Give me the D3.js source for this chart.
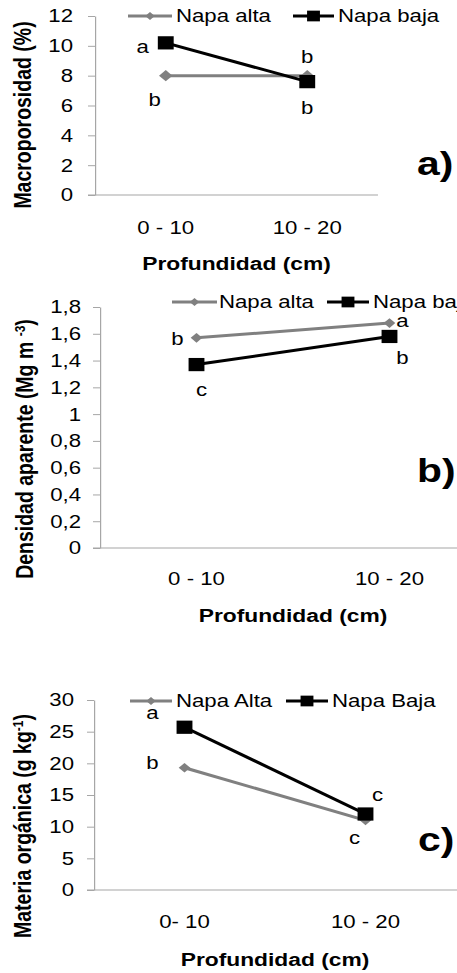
<!DOCTYPE html>
<html>
<head>
<meta charset="utf-8">
<script src="https://cdn.jsdelivr.net/npm/d3@7"></script>
<style>
  html, body { margin: 0; padding: 0; background: #fff; overflow: hidden; }
  text { font-family: Arial, "Liberation Sans", sans-serif; fill: #000; }
</style>
</head>
<body>
<div id="chart"></div>
<script>
// ---- data ----
const catsAB = ["0 - 10", "10 - 20"];
const catsC = ["0- 10", "10 - 20"];
const namesAB = ["Napa alta", "Napa baja"];
const namesC = ["Napa Alta", "Napa Baja"];

const macroAlta = [8.0, 8.0];
const macroBaja = [10.2, 7.6];
const macroAltaLetters = ["b", "b"];
const macroBajaLetters = ["a", "b"];
const macroTicks = [0, 2, 4, 6, 8, 10, 12];

const densAlta = [1.57, 1.68];
const densBaja = [1.37, 1.58];
const densAltaLetters = ["b", "a"];
const densBajaLetters = ["c", "b"];
const densTicks = [0, 0.2, 0.4, 0.6, 0.8, 1, 1.2, 1.4, 1.6, 1.8];

const moAlta = [19.3, 11.0];
const moBaja = [25.7, 12.0];
const moAltaLetters = ["b", "c"];
const moBajaLetters = ["a", "c"];
const moTicks = [0, 5, 10, 15, 20, 25, 30];

// ---- page ----
const W = 457, H = 973;
const SX = 1.2; // the original figure is stretched sideways
const X = px => px / SX;

const svg = d3.select("#chart").append("svg")
  .attr("width", W).attr("height", H)
  .attr("viewBox", `0 0 ${W / SX} ${H}`)
  .attr("preserveAspectRatio", "none");

const GRAY = "#808080", AXIS = "#a6a6a6";
const FONT = 18.5;

const comma = d => (Number.isInteger(d) ? String(d) : d.toFixed(1).replace(".", ","));

function panel(p) {
  const g = svg.append("g");
  const x = d3.scalePoint().domain(p.cats).range([X(p.x0), X(p.x1)]).padding(0.5);
  const y = d3.scaleLinear().domain([0, p.max]).range([p.y0, p.y1]);

  // y axis
  const ax = g.append("g")
    .attr("transform", `translate(${X(p.x0)},0)`)
    .call(d3.axisLeft(y).tickValues(p.ticks).tickFormat(p.fmt)
      .tickSizeInner(X(7)).tickSizeOuter(0).tickPadding(X(p.labGap)));
  ax.select(".domain").attr("stroke", AXIS).attr("stroke-width", 1);
  ax.selectAll(".tick line").attr("stroke", AXIS);
  ax.selectAll(".tick text").attr("font-size", FONT).attr("font-family", null).attr("fill", "#000");

  // x axis line
  g.append("line")
    .attr("x1", X(p.x0 - 7)).attr("x2", X(p.xEnd))
    .attr("y1", y(0)).attr("y2", y(0))
    .attr("stroke", AXIS).attr("stroke-width", 1.2);

  // category labels
  g.selectAll(".cat").data(p.cats).join("text")
    .attr("x", d => x(d)).attr("y", p.catY)
    .attr("text-anchor", "middle").attr("font-size", FONT).text(d => d);

  // x title
  g.append("text")
    .attr("x", (x.range()[0] + x.range()[1]) / 2).attr("y", p.titleY)
    .attr("text-anchor", "middle").attr("font-size", 19).attr("font-weight", "bold")
    .text("Profundidad (cm)");

  // y title
  const yt = g.append("text")
    .attr("transform", `translate(${X(p.ytX)},${p.ytY}) rotate(-90)`)
    .attr("text-anchor", "middle").attr("font-size", 19.5).attr("font-weight", "bold");
  yt.append("tspan").text(p.ytitle[0]);
  if (p.ytitle[1]) {
    yt.append("tspan").attr("font-size", 12).attr("dy", -7).text(p.ytitle[1]);
    yt.append("tspan").attr("dy", 7).text(")");
  }

  // series
  const line = d3.line().x((d, i) => x(p.cats[i])).y(d => y(d));
  const series = [
    { vals: p.alta, letters: p.altaLetters, off: p.altaOff, color: GRAY, sym: d3.symbolDiamond2, size: p.dSize },
    { vals: p.baja, letters: p.bajaLetters, off: p.bajaOff, color: "#000", sym: d3.symbolSquare, size: p.sSize }
  ];
  series.forEach(s => {
    g.append("path").attr("d", line(s.vals))
      .attr("fill", "none").attr("stroke", s.color).attr("stroke-width", 3);
    g.selectAll(null).data(s.vals).join("path")
      .attr("transform", (d, i) => `translate(${x(p.cats[i])},${y(d)})`)
      .attr("d", d3.symbol(s.sym, s.size)).attr("fill", s.color);
  });
  series.forEach(s => {
    g.selectAll(null).data(s.vals).join("text")
      .attr("x", (d, i) => x(p.cats[i]) + X(s.off[i][0]))
      .attr("y", (d, i) => y(d) + s.off[i][1])
      .attr("dy", "0.35em").attr("text-anchor", "middle").attr("font-size", FONT)
      .text((d, i) => s.letters[i]);
  });

  // legend
  const lg = g.append("g");
  p.legend.items.forEach((it, i) => {
    const s = series[i];
    lg.append("line").attr("x1", X(it[0])).attr("x2", X(it[1]))
      .attr("y1", p.legend.y).attr("y2", p.legend.y)
      .attr("stroke", s.color).attr("stroke-width", 3);
    lg.append("path")
      .attr("transform", `translate(${X((it[0] + it[1]) / 2)},${p.legend.y})`)
      .attr("d", d3.symbol(s.sym, i ? 115 : 40)).attr("fill", s.color);
    lg.append("text").attr("x", X(it[2])).attr("y", p.legend.y)
      .attr("dy", "0.35em").attr("font-size", FONT).text(p.names[i]);
  });

  // panel letter
  g.append("text").attr("x", X(p.tag[0])).attr("y", p.tag[1])
    .attr("font-size", 34).attr("font-weight", "bold").text(p.tag[2]);
}

panel({
  cats: catsAB, names: namesAB, alta: macroAlta, baja: macroBaja,
  altaLetters: macroAltaLetters, bajaLetters: macroBajaLetters,
  altaOff: [[-11, 24], [0, -19]], bajaOff: [[-23, 4], [0, 26]],
  max: 12, ticks: macroTicks, fmt: d3.format("d"),
  x0: 95, x1: 378, xEnd: 378, y0: 195, y1: 16, labGap: 15,
  catY: 234, titleY: 270,
  ytitle: ["Macroporosidad (%)"], ytX: 31, ytY: 115,
  dSize: 80, sSize: 175,
  legend: { y: 16, items: [[128, 172, 176], [293, 334, 338]] },
  tag: [417, 175, "a)"]
});

panel({
  cats: catsAB, names: namesAB, alta: densAlta, baja: densBaja,
  altaLetters: densAltaLetters, bajaLetters: densBajaLetters,
  altaOff: [[-19, 1], [13, -3]], bajaOff: [[5, 25], [13, 21]],
  max: 1.8, ticks: densTicks, fmt: comma,
  x0: 100, x1: 486, xEnd: 486, y0: 548, y1: 307, labGap: 12,
  catY: 585, titleY: 622,
  ytitle: ["Densidad aparente (Mg m ", "-3"], ytX: 33, ytY: 449,
  dSize: 60, sSize: 175,
  legend: { y: 302, items: [[172, 217, 219], [327, 369, 373]] },
  tag: [417, 482, "b)"]
});

panel({
  cats: catsC, names: namesC, alta: moAlta, baja: moBaja,
  altaLetters: moAltaLetters, bajaLetters: moBajaLetters,
  altaOff: [[-32, -5], [-11, 17]], bajaOff: [[-32, -15], [12, -19]],
  max: 30, ticks: moTicks, fmt: d3.format("d"),
  x0: 94, x1: 456, xEnd: 457, y0: 890, y1: 700, labGap: 13,
  catY: 928, titleY: 966,
  ytitle: ["Materia orgánica (g kg", "-1"], ytX: 31, ytY: 826,
  dSize: 60, sSize: 175,
  legend: { y: 701, items: [[130, 172, 176], [286, 328, 332]] },
  tag: [418, 851, "c)"]
});
</script>
</body>
</html>
